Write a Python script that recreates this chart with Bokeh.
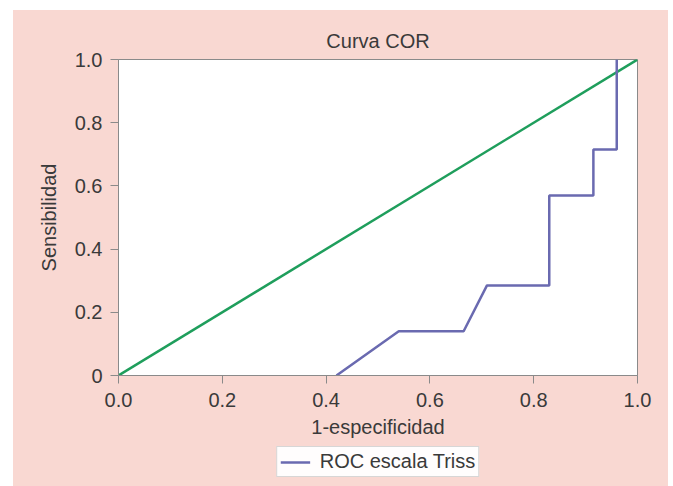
from bokeh.plotting import figure
from bokeh.models import FixedTicker, Legend, LegendItem, Range1d
from bokeh.layouts import column
from bokeh.embed import file_html
from bokeh.resources import INLINE

roc_x = [0.42, 0.54, 0.665, 0.71, 0.83, 0.83, 0.915, 0.915, 0.96, 0.96]
roc_y = [0.0, 0.14, 0.14, 0.285, 0.285, 0.57, 0.57, 0.715, 0.715, 1.0]
ref_x = [0.0, 1.0]
ref_y = [0.0, 1.0]
ticks = [0.0, 0.2, 0.4, 0.6, 0.8, 1.0]
x_tick_labels = ["0.0", "0.2", "0.4", "0.6", "0.8", "1.0"]
y_tick_labels = ["0", "0.2", "0.4", "0.6", "0.8", "1.0"]

FONT = "Liberation Sans"
FS = "20px"
PINK = "#f9d8d2"
TXT = "#3a3a3a"
PURPLE = "#6a6ab0"

p = figure(width=655, height=436, output_backend="svg", toolbar_location=None,
           x_range=Range1d(0, 1), y_range=Range1d(0, 1),
           title="Curva COR")
p.min_border_left = 105
p.min_border_right = 31
p.min_border_top = 49
p.min_border_bottom = 71
p.border_fill_color = PINK
p.background_fill_color = "white"
p.outline_line_color = "#8a8a8a"
p.grid.visible = False

p.title.align = "center"
p.title.text_font = FONT
p.title.text_font_size = FS
p.title.text_font_style = "normal"
p.title.text_color = TXT
p.title.standoff = 16

for ax, labels in ((p.xaxis, x_tick_labels), (p.yaxis, y_tick_labels)):
    ax.ticker = FixedTicker(ticks=ticks)
    ax.major_label_overrides = {t: l for t, l in zip(ticks, labels)}
    ax.minor_tick_line_color = None
    ax.major_tick_out = 8
    ax.major_tick_in = 0
    ax.axis_line_color = "#8a8a8a"
    ax.major_tick_line_color = "#8a8a8a"
    ax.major_label_text_font = FONT
    ax.major_label_text_font_size = FS
    ax.major_label_text_color = TXT
    ax.axis_label_text_font = FONT
    ax.axis_label_text_font_size = FS
    ax.axis_label_text_font_style = "normal"
    ax.axis_label_text_color = TXT

p.xaxis.axis_label = "1-especificidad"
p.yaxis.axis_label = "Sensibilidad"
p.xaxis.major_label_standoff = 9
p.yaxis.major_label_standoff = 8
p.xaxis.axis_label_standoff = 6
p.yaxis.axis_label_standoff = 12

p.line(ref_x, ref_y, line_color="#1f9e5c", line_width=2.5)
p.line(roc_x, roc_y, line_color=PURPLE, line_width=2.5)

# legend strip below the chart
lf = figure(width=655, height=40, output_backend="svg", toolbar_location=None,
            x_range=Range1d(10, 11), y_range=Range1d(10, 11),
            x_axis_type=None, y_axis_type=None)
lf.min_border_left = 105
lf.min_border_right = 31
lf.min_border_top = 0
lf.min_border_bottom = 0
lf.border_fill_color = PINK
lf.background_fill_color = PINK
lf.outline_line_color = None
lf.grid.visible = False
roc_leg = lf.line(roc_x, roc_y, line_color=PURPLE, line_width=2.5)

legend = Legend(items=[LegendItem(label="ROC escala Triss", renderers=[roc_leg])],
                location="top_center", orientation="horizontal")
legend.label_text_font = FONT
legend.label_text_font_size = FS
legend.label_text_color = TXT
legend.border_line_color = "#b0b0b0"
legend.background_fill_color = "white"
legend.glyph_width = 30
legend.label_standoff = 10
legend.padding = 3
legend.margin = 0
lf.add_layout(legend, "center")

layout = column(p, lf, spacing=0)
layout.margin = (10, 0, 0, 13)
layout.styles = {"background-color": PINK}

open("out.html", "w").write(file_html(layout, INLINE))
